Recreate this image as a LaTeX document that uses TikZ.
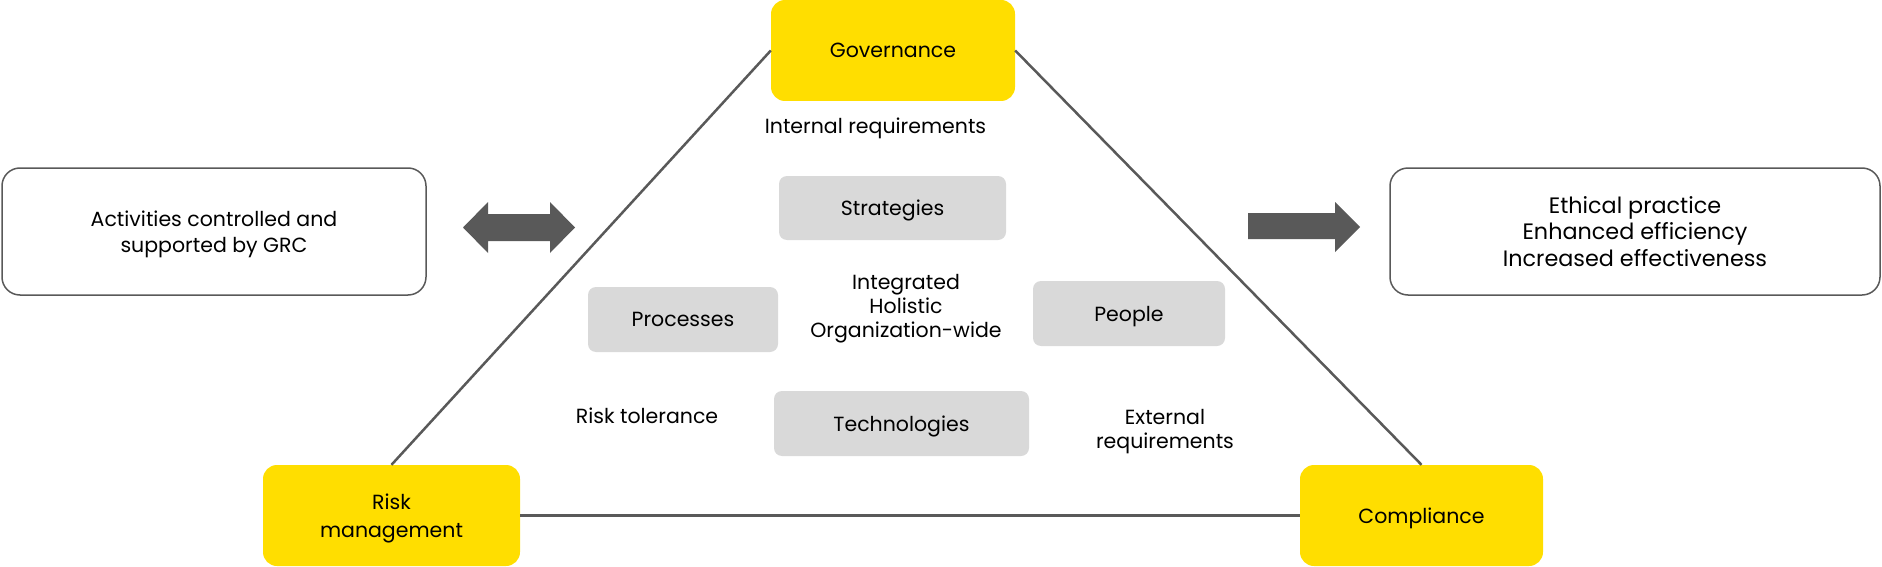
\documentclass[tikz,border=0pt]{standalone}
\usepackage{fontspec}
\setmainfont{Poppins}
\usetikzlibrary{calc, positioning}
\definecolor{grcYellow}{HTML}{FFDE00}
\definecolor{grcLine}{HTML}{595959}
\definecolor{grcGray}{HTML}{D9D9D9}
\newcommand{\grcFont}{\fontsize{20.5}{24}\selectfont}
\newcommand{\grcCardFont}{\fontsize{20.5}{26}\selectfont}
\newcommand{\grcBigFont}{\fontsize{22.3}{26.5}\selectfont}
\newcommand{\grcPillarFont}{\fontsize{20.5}{28}\selectfont}

\begin{document}
\begin{tikzpicture}[x=1pt, y=-1pt,
  pillar/.style={fill=grcYellow, rounded corners=14pt, minimum height=101pt, align=center, font=\grcPillarFont, text=black, text depth=0pt},
  pillarTie/.style={draw=grcLine, line width=2.5pt},
  topicBox/.style={fill=grcGray, rounded corners=8pt, minimum height=64pt, font=\grcFont, text=black, text depth=0pt},
  outcomeCard/.style={draw=grcLine, line width=1.5pt, rounded corners=18pt, minimum height=127pt, align=center, text=black},
  plainNote/.style={align=center, font=\grcFont, text=black, inner sep=0pt},
  fatArrow/.style={fill=grcLine}]
  \useasboundingbox (0,0) rectangle (1882,567);
  \node[pillar, minimum width=244pt] (gov) at (893,50.5) {Governance};
  \node[pillar, minimum width=257pt] (risk) at (391.5,515.5) {Risk\\management};
  \node[pillar, minimum width=243pt] (comp) at (1421.5,515.5) {Compliance};
  \draw[pillarTie] (gov.west) -- (risk.north);
  \draw[pillarTie] (gov.east) -- (comp.north);
  \draw[pillarTie] (risk.east) -- (comp.west);
  \node[outcomeCard, minimum width=424pt, font=\grcCardFont, text depth=0pt] (activities) at (214,231.5) {Activities controlled and\\supported by GRC};
  \node[outcomeCard, minimum width=490pt, font=\grcBigFont] (benefits) at (1635,231.5) {Ethical practice\\Enhanced efficiency\\Increased effectiveness};
  \node[topicBox, minimum width=227pt] (strategies) at (892.5,208) {Strategies};
  \node[topicBox, minimum width=190pt, minimum height=65pt] (processes) at (683,319.5) {Processes};
  \node[topicBox, minimum width=192pt, minimum height=65pt] (people) at (1129,313.5) {People};
  \node[topicBox, minimum width=255pt, minimum height=65pt] (technologies) at (901.5,423.5) {Technologies};
  \node[plainNote] (internal) at (875.5,128) {Internal requirements};
  \node[plainNote] (core) at (906,308.5) {Integrated\\Holistic\\Organization-wide};
  \node[plainNote] (tolerance) at (647,416) {Risk tolerance};
  \node[plainNote] (external) at (1165,431.5) {External\\requirements};
  \fill[fatArrow] (463,227.5) -- (488,202) -- (488,214) -- (550,214) -- (550,202) -- (575,227.5)
    -- (550,253) -- (550,241) -- (488,241) -- (488,253) -- cycle;
  \fill[fatArrow] (1248,213) -- (1335,213) -- (1335,202) -- (1360,227) -- (1335,252) -- (1335,239)
    -- (1248,239) -- cycle;
\end{tikzpicture}
\end{document}
